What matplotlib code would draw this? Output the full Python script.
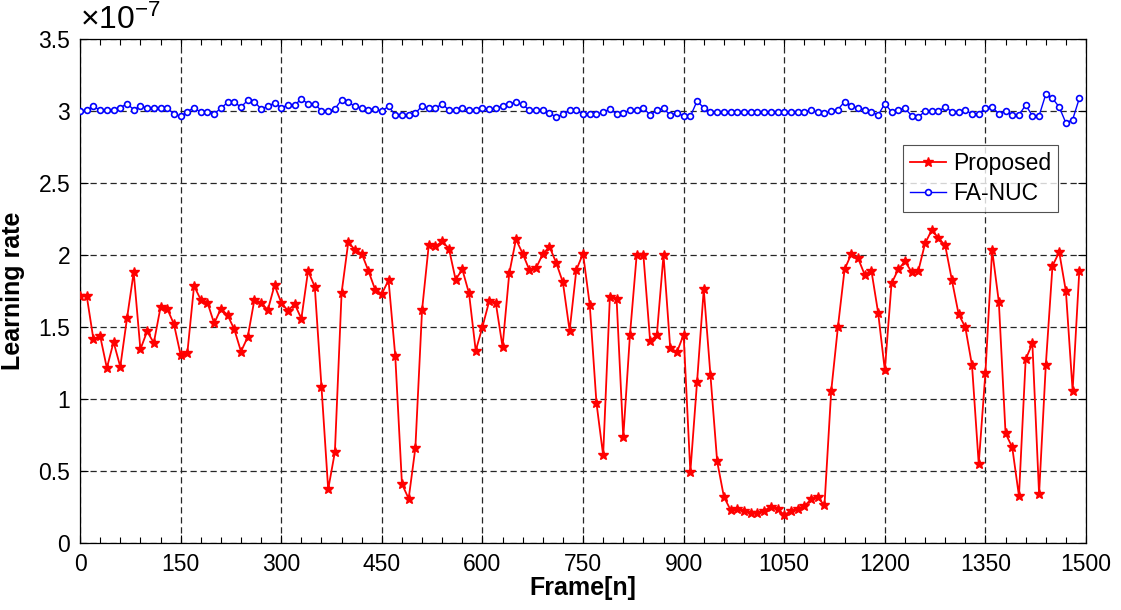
import matplotlib
matplotlib.use('Agg')
import matplotlib.pyplot as plt
from matplotlib.ticker import MultipleLocator, FuncFormatter
import numpy as np

plt.rcParams['font.family'] = ['Liberation Sans', 'DejaVu Sans']
plt.rcParams['mathtext.fontset'] = 'custom'
plt.rcParams['mathtext.rm'] = 'Liberation Sans'

# frame index (every 10 frames)
frames = np.arange(0, 1500, 10)

# learning rate values, in units of 1e-7
proposed = [
    1.715, 1.715, 1.414, 1.437, 1.215, 1.396, 1.224, 1.56, 1.88, 1.345,
    1.47, 1.39, 1.637, 1.627, 1.52, 1.306, 1.32, 1.785, 1.69, 1.67,
    1.525, 1.627, 1.583, 1.484, 1.33, 1.43, 1.69, 1.67, 1.618, 1.79,
    1.67, 1.613, 1.66, 1.558, 1.89, 1.78, 1.085, 0.373, 0.632, 1.738,
    2.09, 2.035, 2.01, 1.89, 1.76, 1.73, 1.826, 1.30, 0.41, 0.308,
    0.66, 1.62, 2.07, 2.06, 2.095, 2.045, 1.83, 1.90, 1.734, 1.335,
    1.50, 1.678, 1.665, 1.363, 1.873, 2.109, 2.01, 1.896, 1.91, 2.007,
    2.058, 1.946, 1.81, 1.474, 1.896, 2.01, 1.655, 0.974, 0.609, 1.706,
    1.697, 0.734, 1.447, 2.00, 2.00, 1.405, 1.442, 2.00, 1.354, 1.326,
    1.447, 0.493, 1.118, 1.762, 1.169, 0.567, 0.322, 0.229, 0.234, 0.224,
    0.206, 0.211, 0.224, 0.252, 0.234, 0.197, 0.22, 0.238, 0.257, 0.303,
    0.317, 0.262, 1.053, 1.498, 1.90, 2.007, 1.979, 1.863, 1.891, 1.60,
    1.20, 1.803, 1.90, 1.956, 1.882, 1.891, 2.081, 2.174, 2.118, 2.067,
    1.826, 1.59, 1.498, 1.234, 0.549, 1.183, 2.035, 1.674, 0.762, 0.664,
    0.326, 1.275, 1.387, 0.34, 1.234, 1.924, 2.021, 1.748, 1.058, 1.891,
]

fa_nuc = [
    3.002, 3.005, 3.033, 3.005, 3.005, 3.01, 3.023, 3.051, 3.01, 3.033,
    3.023, 3.019, 3.023, 3.019, 2.981, 2.963, 2.995, 3.023, 2.991, 2.995,
    2.981, 3.019, 3.06, 3.06, 3.028, 3.074, 3.065, 3.014, 3.033, 3.056,
    3.023, 3.042, 3.042, 3.083, 3.051, 3.051, 3.0, 3.0, 3.014, 3.079,
    3.06, 3.033, 3.019, 3.01, 3.014, 3.0, 3.033, 2.972, 2.972, 2.972,
    2.983, 3.037, 3.019, 3.019, 3.051, 3.005, 3.005, 3.019, 3.005, 3.01,
    3.019, 3.014, 3.019, 3.037, 3.051, 3.06, 3.046, 3.005, 3.005, 3.005,
    2.986, 2.958, 2.977, 3.005, 3.005, 2.977, 2.977, 2.977, 2.991, 3.014,
    2.981, 2.986, 3.005, 3.01, 3.023, 2.972, 3.005, 3.019, 2.972, 2.986,
    2.967, 2.963, 3.069, 3.023, 2.991, 2.991, 2.991, 2.991, 2.991, 2.991,
    2.991, 2.991, 2.991, 2.991, 2.991, 2.991, 2.991, 2.991, 2.995, 3.005,
    2.991, 2.986, 3.0, 3.01, 3.065, 3.037, 3.019, 3.01, 2.995, 2.972,
    3.051, 2.995, 3.01, 3.019, 2.967, 2.958, 3.0, 3.0, 3.0, 3.028,
    2.995, 2.995, 3.01, 2.977, 2.977, 3.023, 3.028, 2.981, 3.0, 2.972,
    2.972, 3.042, 2.967, 2.967, 3.116, 3.088, 3.028, 2.917, 2.940, 3.088,
]

xticks = np.arange(0, 1501, 150)
yticks = np.arange(0, 3.51, 0.5)

fig = plt.figure(figsize=(11.21, 6.10), dpi=100)
ax = fig.add_axes([0.0714, 0.1098, 0.8974, 0.8262])

ax.plot(frames, proposed, color='red', linewidth=1.3, marker='*',
        markersize=7.5, label='Proposed', zorder=4)
ax.plot(frames, fa_nuc, color='blue', linewidth=1.0, marker='o',
        markersize=4.2, markerfacecolor='white', markeredgewidth=1.2,
        label='FA-NUC', zorder=3)

ax.set_xlim(0, 1500)
ax.set_ylim(0, 3.5)
ax.set_xticks(xticks)
ax.set_yticks(yticks)
ax.xaxis.set_minor_locator(MultipleLocator(30))
ax.yaxis.set_major_formatter(FuncFormatter(lambda v, p: '{:g}'.format(v)))

ax.tick_params(which='both', direction='in', top=True, right=True,
               labelsize=16.5, width=0.8, colors='black')
ax.tick_params(which='major', length=6, pad=7)
ax.tick_params(which='minor', length=4)
for s in ax.spines.values():
    s.set_linewidth(0.9)

ax.grid(True, which='major', color='#262626', linestyle=(0, (5, 3)),
        linewidth=0.9)
ax.set_axisbelow(True)

ax.set_xlabel('Frame[n]', fontsize=18, fontweight='bold', labelpad=0)
ax.set_ylabel('Learning rate', fontsize=18, fontweight='bold', labelpad=10)

# MATLAB-style exponent label above the y axis
ax.text(0.0, 1.006, r'$\mathregular{\times10^{-7}}$', transform=ax.transAxes,
        fontsize=23, ha='left', va='bottom')

ax.legend(loc='upper left', bbox_to_anchor=(0.818, 0.79), fontsize=16.5,
          frameon=True, fancybox=False, edgecolor='#262626',
          handlelength=1.6, handletextpad=0.3, borderpad=0.3,
          labelspacing=0.3, borderaxespad=0).get_frame().set_linewidth(0.8)

plt.savefig('out.png', dpi=100)
plt.close()
